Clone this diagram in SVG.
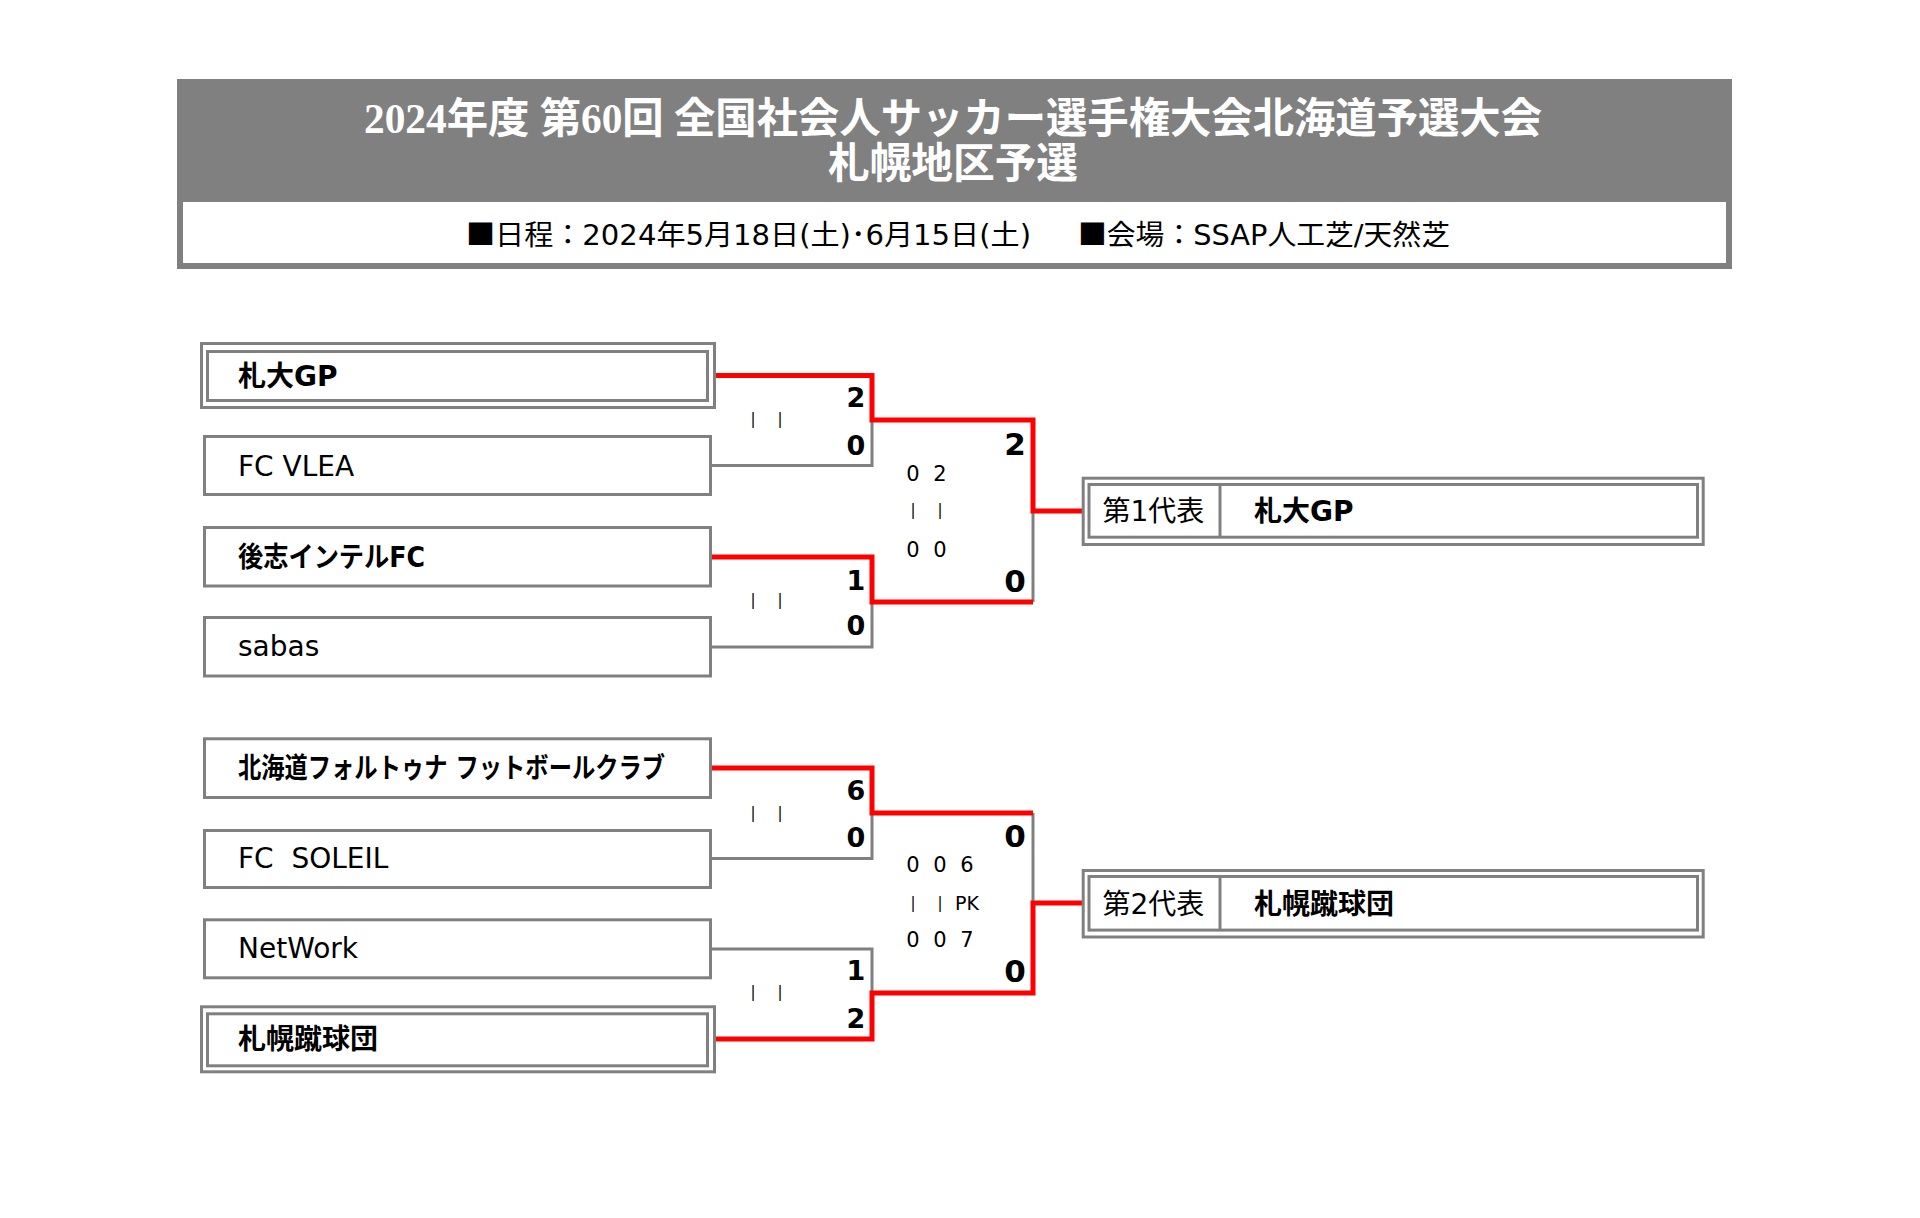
<svg xmlns="http://www.w3.org/2000/svg" width="1920" height="1218" viewBox="0 0 1920 1218">
<style>
.bg{fill:#ffffff}
.box{fill:#ffffff;stroke:#808080;stroke-width:3}
.name{font-family:"DejaVu Sans","Noto Sans CJK JP",sans-serif;font-size:28px;fill:#000}
.b{font-weight:bold}
.sc1{font-family:"DejaVu Sans","Noto Sans CJK JP",sans-serif;font-size:27px;font-weight:bold;fill:#000;text-anchor:middle}
.sc2{font-family:"DejaVu Sans","Noto Sans CJK JP",sans-serif;font-size:31px;font-weight:bold;fill:#000;text-anchor:middle}
.sm{font-family:"DejaVu Sans","Noto Sans CJK JP",sans-serif;font-size:21px;fill:#000;text-anchor:middle}
.bar{font-family:"DejaVu Sans",sans-serif;font-size:15px;fill:#000;text-anchor:middle}
.gray{fill:none;stroke:#808080;stroke-width:3}
.red{fill:none;stroke:#ff0000;stroke-width:5;stroke-linejoin:miter;stroke-linecap:butt}
.title{font-family:"Liberation Serif","Noto Sans CJK JP",serif;font-size:42px;font-weight:bold;fill:#ffffff}
.sub{font-family:"DejaVu Sans","Noto Sans CJK JP",sans-serif;font-size:28px;fill:#000}
.sq{font-family:"Noto Sans CJK JP",sans-serif}
</style>
<rect class="bg" x="0" y="0" width="1920" height="1218"/>

<g id="header">
  <rect x="177" y="79" width="1555" height="190" fill="#808080"/>
  <rect x="183" y="202" width="1543" height="61" fill="#ffffff"/>
  <text class="title" x="364" y="133" textLength="1178" lengthAdjust="spacingAndGlyphs">2024年度 第60回 全国社会人サッカー選手権大会北海道予選大会</text>
  <text class="title" x="828" y="178" textLength="250" lengthAdjust="spacingAndGlyphs">札幌地区予選</text>
  <text class="sub" x="466" y="245" textLength="565" lengthAdjust="spacingAndGlyphs"><tspan class="sq">■</tspan>日程：2024年5月18日(土)･6月15日(土)</text>
  <text class="sub" x="1078" y="245" textLength="372" lengthAdjust="spacingAndGlyphs"><tspan class="sq">■</tspan>会場：SSAP人工芝/天然芝</text>
</g>

<g id="connectors">
  <path class="gray" d="M712 465.5 H872 V420"/>
  <path class="gray" d="M712 647 H872 V602"/>
  <path class="gray" d="M1033 511 V602"/>
  <path class="gray" d="M712 858.5 H872 V813"/>
  <path class="gray" d="M712 949 H872 V993"/>
  <path class="gray" d="M1033 813 V903"/>
  <path class="red" d="M716 375.5 H872 V420 H1033 V511 H1082"/>
  <path class="red" d="M712 557 H872 V602 H1033"/>
  <path class="red" d="M712 768 H872 V813 H1033"/>
  <path class="red" d="M716 1039 H872 V993 H1033 V903 H1082"/>
</g>

<g id="team1">
  <rect class="box" x="201.5" y="343.5" width="513" height="64"/>
  <rect class="box" x="207.5" y="351.5" width="500" height="49"/>
  <text class="name b" x="238" y="386">札大GP</text>
</g>
<g id="team2">
  <rect class="box" x="204.5" y="436.5" width="506" height="58"/>
  <text class="name" x="238" y="475.5">FC VLEA</text>
</g>
<g id="team3">
  <rect class="box" x="204.5" y="527.5" width="506" height="58.5"/>
  <text class="name b" x="238" y="567" textLength="187" lengthAdjust="spacingAndGlyphs">後志インテルFC</text>
</g>
<g id="team4">
  <rect class="box" x="204.5" y="617.5" width="506" height="58.5"/>
  <text class="name" x="238" y="656">sabas</text>
</g>
<g id="team5">
  <rect class="box" x="204.5" y="738.8" width="506" height="58.7"/>
  <text class="name b" x="238" y="778" textLength="427" lengthAdjust="spacingAndGlyphs">北海道フォルトゥナ フットボールクラブ</text>
</g>
<g id="team6">
  <rect class="box" x="204.5" y="830.5" width="506" height="57"/>
  <text class="name" x="238" y="868" xml:space="preserve">FC  SOLEIL</text>
</g>
<g id="team7">
  <rect class="box" x="204.5" y="919.8" width="506" height="58"/>
  <text class="name" x="238" y="958">NetWork</text>
</g>
<g id="team8">
  <rect class="box" x="201.5" y="1006.8" width="513" height="65"/>
  <rect class="box" x="207.5" y="1013.8" width="500" height="52"/>
  <text class="name b" x="238" y="1049">札幌蹴球団</text>
</g>

<g id="winner1">
  <rect class="box" x="1083.2" y="478.2" width="620" height="66.3"/>
  <rect class="box" x="1089" y="484.5" width="608.5" height="52.7"/>
  <line class="gray" x1="1220" y1="484.5" x2="1220" y2="537.2"/>
  <text class="name" x="1102.5" y="521">第1代表</text>
  <text class="name b" x="1254" y="521">札大GP</text>
</g>
<g id="winner2">
  <rect class="box" x="1083.2" y="870.5" width="620" height="66.5"/>
  <rect class="box" x="1089" y="876.5" width="608.5" height="53.6"/>
  <line class="gray" x1="1220" y1="876.5" x2="1220" y2="930.1"/>
  <text class="name" x="1102.5" y="913.5">第2代表</text>
  <text class="name b" x="1254" y="913.5">札幌蹴球団</text>
</g>

<g id="scores">
  <text class="sc1" x="856" y="406.5">2</text>
  <text class="sc1" x="856" y="455">0</text>
  <text class="sc1" x="856" y="589.5">1</text>
  <text class="sc1" x="856" y="635">0</text>
  <text class="sc1" x="856" y="800">6</text>
  <text class="sc1" x="856" y="847.3">0</text>
  <text class="sc1" x="856" y="980">1</text>
  <text class="sc1" x="856" y="1027.7">2</text>

  <text class="sc2" x="1015" y="455">2</text>
  <text class="sc2" x="1015" y="592">0</text>
  <text class="sc2" x="1015" y="847.3">0</text>
  <text class="sc2" x="1015" y="982.3">0</text>

  <text class="bar" x="753" y="424">|</text>
  <text class="bar" x="780" y="424">|</text>
  <text class="bar" x="753" y="605">|</text>
  <text class="bar" x="780" y="605">|</text>
  <text class="bar" x="753" y="818">|</text>
  <text class="bar" x="780" y="818">|</text>
  <text class="bar" x="753" y="997">|</text>
  <text class="bar" x="780" y="997">|</text>

  <text class="sm" x="913" y="480.7">0</text>
  <text class="sm" x="940" y="480.7">2</text>
  <text class="bar" x="913" y="515">|</text>
  <text class="bar" x="940" y="515">|</text>
  <text class="sm" x="913" y="556.7">0</text>
  <text class="sm" x="940" y="556.7">0</text>

  <text class="sm" x="913" y="871.7">0</text>
  <text class="sm" x="940" y="871.7">0</text>
  <text class="sm" x="967" y="871.7">6</text>
  <text class="bar" x="913" y="908">|</text>
  <text class="bar" x="940" y="908">|</text>
  <text class="sm" x="955" y="910" style="text-anchor:start;font-size:19px">PK</text>
  <text class="sm" x="913" y="947.3">0</text>
  <text class="sm" x="940" y="947.3">0</text>
  <text class="sm" x="967" y="947.3">7</text>
</g>
</svg>
